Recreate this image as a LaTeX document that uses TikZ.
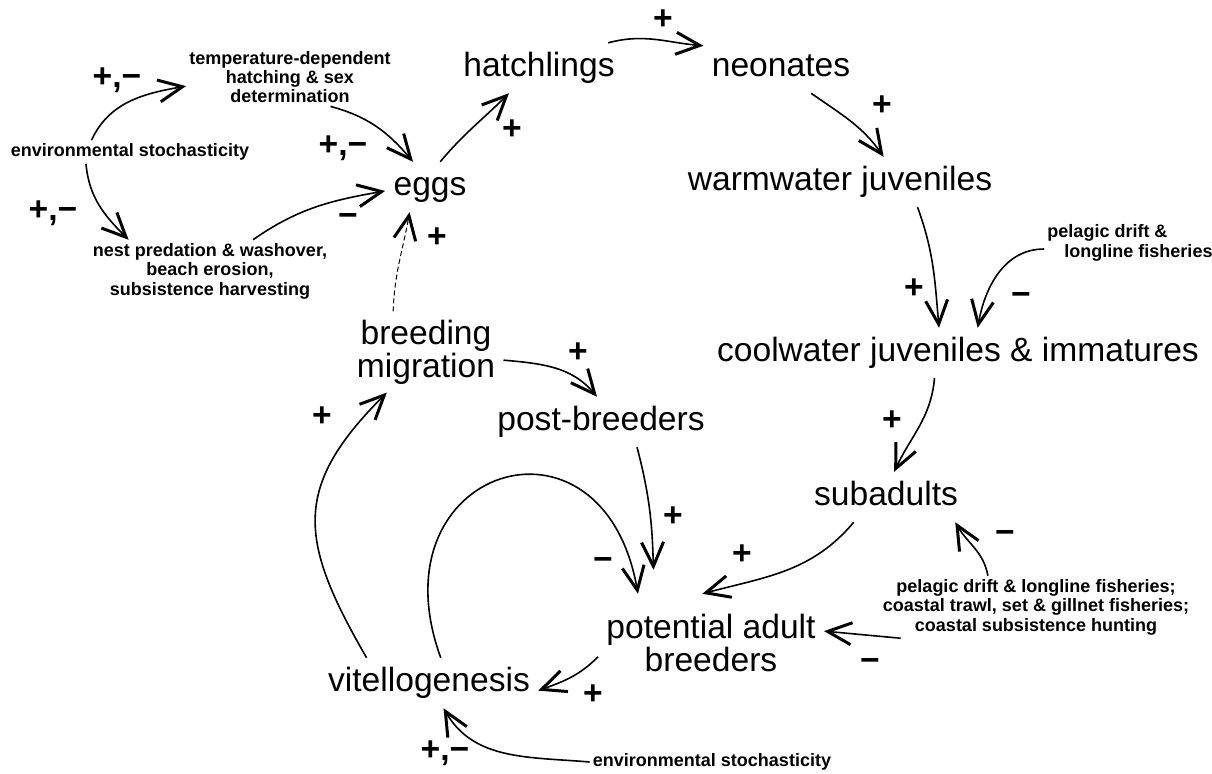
\documentclass[tikz,border=0pt]{standalone}
\usepackage{fontspec}
\setmainfont{Liberation Sans}
\usetikzlibrary{arrows.meta}

\begin{document}
\begin{tikzpicture}[x=0.5pt, y=-0.5pt,
  st/.style={font=\fontsize{16.8}{16.5}\selectfont, inner sep=4pt,
             text height=12.6pt, text depth=4.2pt},
  st2/.style={font=\fontsize{16.8}{16.5}\selectfont, align=center, inner sep=4pt},
  fx/.style={font=\fontsize{9}{9.7}\selectfont\bfseries, align=center, inner sep=1.5pt},
  sg/.style={font=\fontsize{16.8}{16.5}\selectfont\bfseries, inner sep=0pt},
  ar/.style={-{Straight Barb[length=12pt,width=11pt,line width=1.5pt]}, line width=0.8pt},
  da/.style={ar, line width=0.5pt, dash pattern=on 2.5pt off 1.5pt}]
\useasboundingbox (0,0) rectangle (1212,773);
\node[st] (egg) at (430,187) {eggs};
\node[st] (hat) at (539,68) {hatchlings};
\node[st] (neo) at (781,68) {neonates};
\node[st] (wrm) at (840,182) {warmwater juveniles};
\node[st] (col) at (958,353) {coolwater juveniles \& immatures};
\node[st] (sub) at (886,497) {subadults};
\node[st2, inner ysep=10pt] (pab) at (711,643) {potential adult\\breeders};
\node[st] (vit) at (429,683) {vitellogenesis};
\node[st2] (brd) at (426,352) {breeding\\migration};
\node[st] (pst) at (601,422) {post-breeders};
\node[fx] (es1) at (130,152) {environmental stochasticity};
\node[fx] (tmp) at (290,77) {temperature-dependent\\hatching \& sex\\determination};
\node[fx] (nst) at (210,271) {nest predation \& washover,\\beach erosion,\\subsistence harvesting};
\node[fx, align=left] (pel) at (1130,243) {pelagic drift \&\\\hspace*{8.5pt}longline fisheries};
\node[fx] (fsh) at (1036,607) {pelagic drift \& longline fisheries;\\coastal trawl, set \& gillnet fisheries;\\coastal subsistence hunting};
\node[fx] (es2) at (712,762) {environmental stochasticity};
\node[sg] (s1) at (117,80) {+,−};
\node[sg] (s2) at (53,213) {+,−};
\node[sg] (s3) at (343,148) {+,−};
\node[sg] (s4) at (348,220) {−};
\node[sg] (s5) at (437,238) {+};
\node[sg] (s6) at (512,130) {+};
\node[sg] (s7) at (663,20) {+};
\node[sg] (s8) at (882,106) {+};
\node[sg] (s9) at (914,289) {+};
\node[sg] (s10) at (1021,299) {−};
\node[sg] (s11) at (892,421) {+};
\node[sg] (s12) at (1005,537) {−};
\node[sg] (s13) at (742,555) {+};
\node[sg] (s14) at (673,517) {+};
\node[sg] (s15) at (603,564) {−};
\node[sg] (s16) at (870,665) {−};
\node[sg] (s17) at (593,695) {+};
\node[sg] (s18) at (445,753) {+,−};
\node[sg] (s19) at (578,353) {+};
\node[sg] (s20) at (322,417) {+};
\draw[ar] (es1.163) to[out=65,in=190] (tmp.185);
\draw[ar] (es1.195) to[out=-85,in=135] (nst.159);
\draw[ar] (tmp.-36) to[out=-15,in=130] (egg.124);
\draw[ar] (nst.36) to[out=35,in=190] (egg.185);
\draw[da] (brd.129) to[out=88,in=-100] (egg.231);
\draw[ar] (egg.68) to[out=50,in=-135] (hat.220);
\draw[ar] (hat.20) to[out=15,in=175] (neo.164);
\draw[ar] (neo.-40) to[out=-35,in=125] (wrm.30);
\draw[ar] (wrm.-18) to[out=-70,in=95] (col.127);
\draw[ar] (pel.184) to[out=180,in=80] (col.52);
\draw[ar] (col.227) to[out=-95,in=65] (sub.72);
\draw[ar] (sub.218) to[out=-130,in=15] (pab.100);
\draw[ar] (fsh.147) to[out=100,in=-60] (sub.-20);
\draw[ar] (fsh.193) -- (pab.6);
\draw[ar] (pab.187) to[out=-135,in=20] (vit.-4);
\draw[ar] (es2.180) to[out=175,in=-60] (vit.-60);
\draw[ar] (vit.158) to[out=120,in=-135,looseness=1.3] (brd.226);
\draw[ar] (vit.65) to[out=110,in=100,looseness=2.5] (pab.146);
\draw[ar, shorten >=12pt] (pst.-35) to[out=-75,in=92] (pab.139);
\draw[ar] (brd.-6) to[out=-5,in=130] (pst.99);
\end{tikzpicture}
\end{document}
